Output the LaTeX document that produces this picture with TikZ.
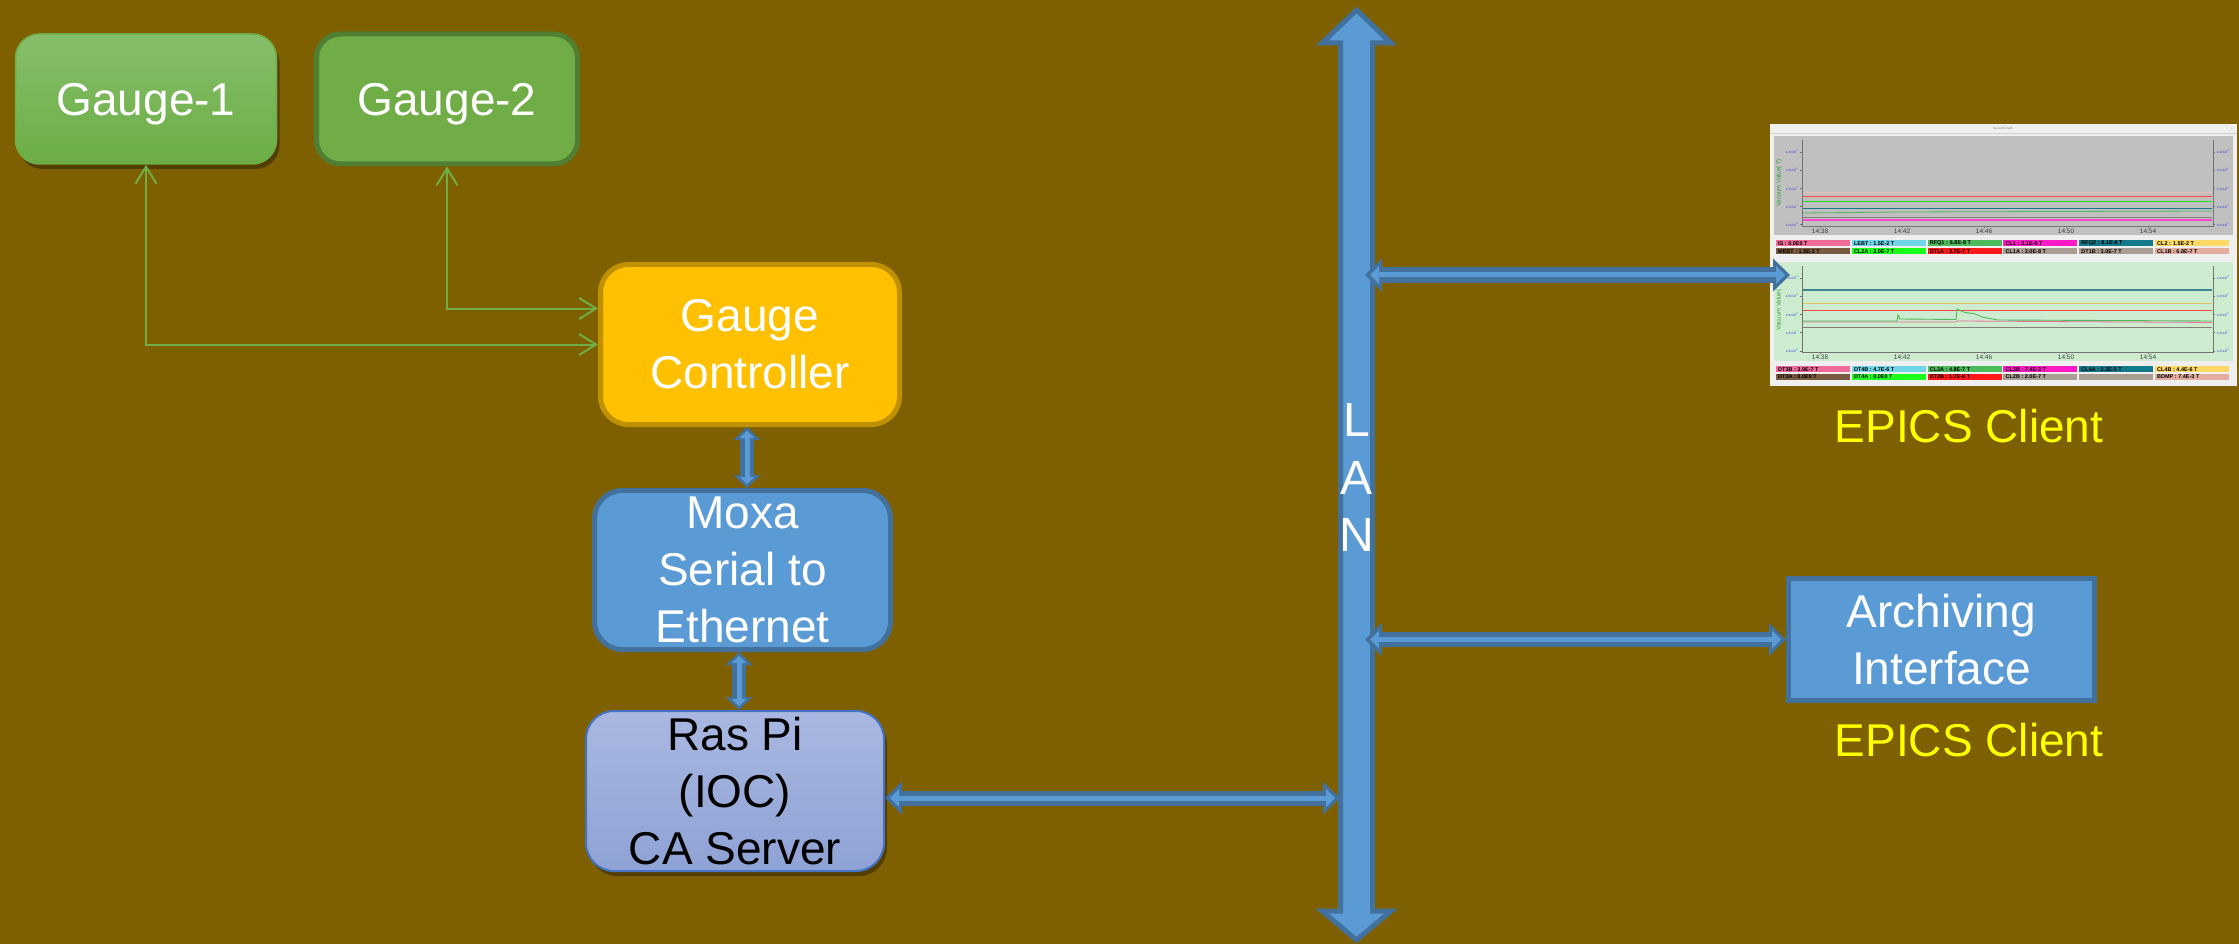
\documentclass[tikz,border=0pt]{standalone}
\usepackage{fontspec}
\setmainfont{Liberation Sans}
\usetikzlibrary{arrows.meta,shadows,calc}
\definecolor{bg}{HTML}{7F6000}
\definecolor{gonetop}{HTML}{86BE6B}
\definecolor{gonebot}{HTML}{6BAE44}
\definecolor{gedge}{HTML}{70AD47}
\definecolor{gtwofill}{HTML}{70AD47}
\definecolor{gtwoedge}{HTML}{507E32}
\definecolor{gcfill}{HTML}{FFC000}
\definecolor{gcedge}{HTML}{BF9000}
\definecolor{bfill}{HTML}{5B9BD5}
\definecolor{bedge}{HTML}{41719C}
\definecolor{rtop}{HTML}{A9B8E1}
\definecolor{rbot}{HTML}{8FA2D5}
\definecolor{redge}{HTML}{4472C4}
\definecolor{epicsyellow}{HTML}{FFFF00}
\definecolor{shotbg}{HTML}{EFEFEF}
\definecolor{panelgray}{HTML}{C0C0C0}
\definecolor{panelgreen}{HTML}{CDEBCF}
\definecolor{lgpink}{HTML}{F06A9A}
\definecolor{lgcyan}{HTML}{6ED6E6}
\definecolor{lggreen}{HTML}{4CBB5C}
\definecolor{lgmag}{HTML}{FF1AC6}
\definecolor{lgteal}{HTML}{137A8C}
\definecolor{lgyel}{HTML}{FFD966}
\definecolor{lgbrown}{HTML}{7A5A40}
\definecolor{lglime}{HTML}{1AFF1A}
\definecolor{lgred}{HTML}{FF1A1A}
\definecolor{lggray}{HTML}{A89E94}
\definecolor{lgsalmon}{HTML}{E4ADA0}
\definecolor{axisblue}{HTML}{3030E0}
\definecolor{axisgreen}{HTML}{2EA02E}
\newcommand\bigtxt{\fontsize{46}{57}\selectfont}
\newcommand\lantxt{\fontsize{48}{57.5}\selectfont}
\newcommand\tinytxt{\fontsize{3.2}{4}\selectfont}
\newcommand\legtxt{\fontsize{5.5}{6}\selectfont\bfseries}
\newcommand\timetxt{\fontsize{6.5}{7}\selectfont}
\begin{document}
\begin{tikzpicture}[x=1pt,y=-1pt,
  box/.style={align=center, text=white, font=\bigtxt, inner sep=0pt, rounded corners=28pt, line width=5pt},
  gaugebox/.style={box, rounded corners=24pt, text depth=0pt, minimum width=261, minimum height=130},
  gline/.style={draw=gedge, line width=2pt, {Straight Barb[length=17pt,width=21pt]}-{Straight Barb[length=17pt,width=21pt]}},
  blkout/.style={draw=bedge, line width=15pt, {Triangle[length=17pt,width=33pt,line width'=0pt]}-{Triangle[length=17pt,width=33pt,line width'=0pt]}},
  blkin/.style={draw=bfill, line width=5pt, shorten <=5pt, shorten >=5pt, {Triangle[length=9pt,width=18pt,line width'=0pt]}-{Triangle[length=9pt,width=18pt,line width'=0pt]}},
  sblkout/.style={draw=bedge, line width=14pt, {Triangle[length=13pt,width=27pt,line width'=0pt]}-{Triangle[length=13pt,width=27pt,line width'=0pt]}},
  sblkin/.style={draw=bfill, line width=5pt, shorten <=4pt, shorten >=4pt, {Triangle[length=7pt,width=15pt,line width'=0pt]}-{Triangle[length=7pt,width=15pt,line width'=0pt]}},
  epics/.style={text=epicsyellow, font=\bigtxt, anchor=base, inner sep=0pt},
  shadowed/.style={drop shadow={shadow xshift=3pt, shadow yshift=-5pt, opacity=0.35, fill=black}},
  legcell/.style={inner sep=0pt, anchor=west, font=\legtxt, text=black},
  ylab/.style={inner sep=0pt, font=\tinytxt, text=axisblue},
  tlab/.style={inner sep=0pt, font=\timetxt, text=black!75},
  plotaxis/.style={draw=black!55, line width=0.6pt}
]
\fill[bg] (0,0) rectangle (2239,944);
\useasboundingbox (0,0) rectangle (2239,944);

% ---------- gauges ----------
\node[gaugebox, top color=gonetop, bottom color=gonebot, draw=gedge, line width=1.5pt, shadowed] (g1) at (146,99) {Gauge-1};
\node[gaugebox, fill=gtwofill, draw=gtwoedge] (g2) at (447,99) {Gauge-2};

% ---------- controller chain ----------
\node[box, fill=gcfill, draw=gcedge, minimum width=299, minimum height=160] (gc) at (750,344.5) {Gauge\\Controller};
\node[box, fill=bfill, draw=bedge, minimum width=296, minimum height=159] (moxa) at (742.5,570) {Moxa\\Serial to\\Ethernet};
\node[box, top color=rtop, bottom color=rbot, draw=redge, line width=2pt, text=black, minimum width=298, minimum height=160, shadowed] (raspi) at (735,791) {Ras Pi\\(IOC)\\CA Server};

% ---------- green gauge links ----------
\draw[gline] (g1.south) |- (gc.west);
\draw[gline] (g2.south) |- ([yshift=36pt]gc.west);

% ---------- LAN backbone ----------
\draw[fill=bfill, draw=bedge, line width=5pt, line join=miter]
  (1356.5,10) -- (1391,43) -- (1372.5,43) -- (1372.5,911) -- (1391,911)
  -- (1356.5,940) -- (1322,911) -- (1340.5,911) -- (1340.5,43) -- (1322,43) -- cycle;
\node[minimum width=37, minimum height=866, inner sep=0pt, outer sep=0pt, align=center, text=white, font=\lantxt] (lan) at (1356.5,477.5) {L\\A\\N};

% ---------- right side ----------
\node[box, rounded corners=0pt, fill=bfill, draw=bedge, minimum width=306, minimum height=122] (arch) at (1941.5,639.5) {Archiving\\Interface};
\node[epics] (ep1) at (1969,442) {EPICS Client};
\node[epics] (ep2) at (1969,756) {EPICS Client};

% ---------- screenshot of the vacuum graph ----------
\node[fill=shotbg, minimum width=467, minimum height=262, inner sep=0pt, outer sep=0pt] (shot) at (2003.5,255) {};
\node[inner sep=0pt, font=\tinytxt, text=black!45] (shottitle) at (2003,128.5) {VacuumGraph};
\node[inner sep=0pt, font=\tinytxt, text=black!45] (shotx) at (2232,128.5) {x};
\draw[black!18, line width=0.6pt] (1771,133.5) -- (2236,133.5);
\fill[panelgray] (1774,136) rectangle (2233,235);
\fill[panelgreen] (1774,262) rectangle (2233,361);
\foreach \o in {0,126}{
  \draw[plotaxis] (1802,{140+\o}) -- (1802,{226+\o}) -- (2213,{226+\o}) -- (2213,{140+\o});
  \foreach \k/\e in {0/4,1/5,2/6,3/7,4/8}{
    \draw[plotaxis] (1800,{152+18.2*\k+\o}) -- (1802,{152+18.2*\k+\o});
    \draw[plotaxis] (2213,{152+18.2*\k+\o}) -- (2215,{152+18.2*\k+\o});
    \node[ylab] (yl-\o-\k) at (1792,{152+18.2*\k+\o}) {1.0×10\textsuperscript{-\e}};
    \node[ylab] (yr-\o-\k) at (2223,{152+18.2*\k+\o}) {1.0×10\textsuperscript{-\e}};
  }
  \foreach \t/\x in {14:38/1820,14:42/1902,14:46/1984,14:50/2066,14:54/2148}{
    \draw[plotaxis] (\x,{226+\o}) -- (\x,{228+\o});
    \node[tlab] (tl-\o-\x) at (\x,{231.5+\o}) {\t};
  }
}
\node[inner sep=0pt, rotate=90, font=\fontsize{6}{6}\selectfont, text=axisgreen] (ytitle1) at (1779,183) {Vacuum Value( T)};
\node[inner sep=0pt, rotate=90, font=\fontsize{6}{6}\selectfont, text=axisgreen] (ytitle2) at (1779,310) {Vacuum Value(};
% upper traces
\draw[lgsalmon!80, line width=0.8pt] (1803,192) -- (2212,192);
\draw[lgred!80, line width=1pt] (1803,197) -- (2212,197);
\draw[lglime!90!black, line width=1pt] (1803,202) -- (2212,202);
\draw[lgteal, line width=1pt] (1803,209) -- (2212,209);
\draw[lggreen, line width=0.8pt] (1803,213) -- (1900,212) -- (2212,211);
\draw[lggray!80!black, line width=0.8pt] (1803,217) -- (2212,217);
\draw[lgmag!80, line width=1.4pt] (1803,220) -- (2212,220);
% lower traces
\draw[lgteal!70!lggray, line width=1.3pt] (1803,290) -- (2212,290);
\draw[lgyel!90!black, line width=0.9pt] (1803,303) -- (2212,303);
\draw[lgred!80, line width=1pt] (1803,310) -- (2212,310);
\draw[lggray!80!black, line width=0.8pt] (1803,327) -- (2212,327);
\draw[lgpink, line width=0.8pt] (1803,322) -- (1955,322) -- (1958,321) -- (2212,322.5);
\draw[lggreen, line width=0.9pt] (1803,321) -- (1897,321) -- (1898,315) -- (1900,319) -- (1956,319.5) -- (1957,309) -- (1963,312) -- (1975,314) -- (1982,317) -- (1998,320) -- (2212,321);
% legends
\foreach \c/\y/\col/\txt in {
  0/240/lgpink/IS : 0.0E0 T, 1/240/lgcyan/LEBT : 1.5E-2 T, 2/240/lggreen/RFQ1 : 6.8E-8 T,
  3/240/lgmag/CL1 : 2.1E-8 T, 4/240/lgteal/RFQ2 : 8.1E-8 T, 5/240/lgyel/CL2 : 1.5E-2 T,
  0/248/lgbrown/MEBT : 1.5E-2 T, 1/248/lglime/CL2A : 2.0E-7 T, 2/248/lgred/DT1A : 3.7E-7 T,
  3/248/lggray/CL1A : 3.0E-8 T, 4/248/lggray/DT1B : 3.0E-7 T, 5/248/lgsalmon/CL1B : 6.8E-7 T,
  0/366/lgpink/DT3B : 3.9E-7 T, 1/366/lgcyan/DT4B : 4.7E-6 T, 2/366/lggreen/CL3A : 4.8E-7 T,
  3/366/lgmag/CL3B : 7.4E-3 T, 4/366/lgteal/CL4A : 2.3E-5 T, 5/366/lgyel/CL4B : 4.4E-6 T,
  0/373.5/lgbrown/DT3A : 0.0E0 T, 1/373.5/lglime/DT4A : 0.0E0 T, 2/373.5/lgred/DT2B : 1.7E-6 T,
  3/373.5/lggray/CL2B : 2.0E-7 T, 4/373.5/lggray/{}, 5/373.5/lgsalmon/BDMP : 7.4E-3 T}{
  \fill[\col] ({1776+75.8*\c},\y) rectangle ++(74,6.2);
  \node[legcell] (lg-\c-\y) at ({1778+75.8*\c},{\y+3.3}) {\txt};
}

% ---------- blue block connectors ----------
\draw[sblkout] ([xshift=-3pt]gc.south) -- ([xshift=4.5pt]moxa.north);
\draw[sblkin]  ([xshift=-3pt]gc.south) -- ([xshift=4.5pt]moxa.north);
\draw[sblkout] ([xshift=-3.5pt]moxa.south) -- ([xshift=4pt]raspi.north);
\draw[sblkin]  ([xshift=-3.5pt]moxa.south) -- ([xshift=4pt]raspi.north);
\draw[blkout] ([yshift=-7pt]raspi.east) -- ([yshift=-7pt,xshift=2pt]raspi.east -| lan.west);
\draw[blkin]  ([yshift=-7pt]raspi.east) -- ([yshift=-7pt,xshift=2pt]raspi.east -| lan.west);
\coordinate (shotin) at (1790,275);
\draw[blkout] ([xshift=-10pt]lan.east |- shotin) -- (shotin);
\draw[blkin]  ([xshift=-10pt]lan.east |- shotin) -- (shotin);
\draw[blkout] ([xshift=-10pt]lan.east |- arch.west) -- (arch.west);
\draw[blkin]  ([xshift=-10pt]lan.east |- arch.west) -- (arch.west);
\end{tikzpicture}
\end{document}
